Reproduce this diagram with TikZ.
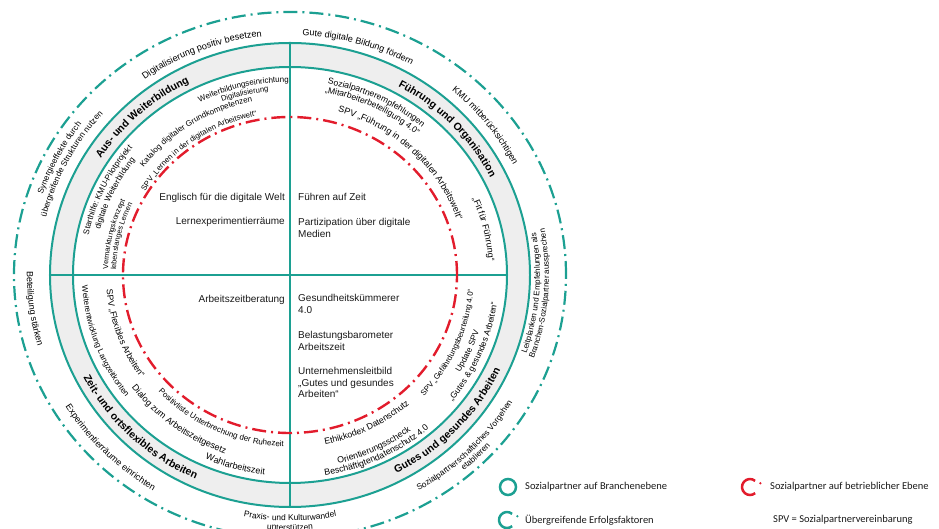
\documentclass[tikz,border=0pt]{standalone}
\usepackage{fontspec}
\setmainfont{Liberation Sans}
\newfontfamily\legendfont{Carlito}
\usetikzlibrary{decorations.text}
\definecolor{tealc}{RGB}{28,160,146}
\definecolor{redc}{RGB}{226,28,44}
\definecolor{bandc}{RGB}{238,238,238}
\newcommand\myfs[1]{\fontsize{#1}{#1}\selectfont}
% #1 half span, #2 centre angle, #3 x radius (pt), #4 1=clockwise -1=counter-clockwise, #5 font, #6 text
\newcommand\arctext[6][75]{%
  \pgfmathsetmacro\myAs{#2+#4*#1}%
  \pgfmathsetmacro\myAe{#2-#4*#1}%
  \pgfmathsetmacro\myRy{0.96*#3}%
  \path[decorate,decoration={text along path,text format delimiters={|}{|},
      text={|#5|#6},text align=center}]
    (\myAs:#3pt and \myRy pt) arc[start angle=\myAs,end angle=\myAe,x radius=#3pt,y radius=\myRy pt];%
}
\tikzset{
  ring/.style={tealc,line width=2pt},
  ctext/.style={font=\fontsize{10}{11.5}\selectfont,inner sep=0pt,text=black!90},
  legtext/.style={font=\legendfont\fontsize{10.5}{12}\selectfont,inner sep=0pt,anchor=west,text=black!90},
  dashdot/.style={dash pattern=on 14pt off 5pt on 2pt off 5pt}
}
\begin{document}
\begin{tikzpicture}[x=1pt,y=1pt]
\useasboundingbox (-290,-254) rectangle (649,275);
% band
\fill[bandc,even odd rule] (0,0) ellipse[x radius=240pt,y radius=232pt] (0,0) ellipse[x radius=217pt,y radius=208pt];
\draw[ring] (0,0) ellipse[x radius=240pt,y radius=232pt];
\draw[ring] (0,0) ellipse[x radius=217pt,y radius=208pt];
\coordinate (top) at (0,232);
\coordinate (bot) at (0,-232);
\coordinate (lft) at (-240,0);
\coordinate (rgt) at (217,0);
\draw[ring] (top) -- (bot);
\draw[ring] (lft) -- (rgt);
\draw[redc,line width=2.4pt,dashdot] (0,0) ellipse[x radius=167pt,y radius=158pt];
\draw[tealc,line width=2.2pt,dashdot] (0,0) ellipse[x radius=276pt,y radius=263pt];

% outer ring texts
\arctext{111.7}{250}{1}{\myfs{9.2}}{Digitalisierung positiv besetzen}
\arctext{73.5}{250}{1}{\myfs{9}}{Gute digitale Bildung fördern}
\arctext{37.5}{251}{1}{\myfs{9}}{KMU mitberücksichtigen}
\arctext{153}{261}{1}{\myfs{8.3}}{Synergieeffekte durch}
\arctext{153}{251}{1}{\myfs{8.3}}{übergreifende Strukturen nutzen}
\arctext{187.5}{263}{-1}{\myfs{9}}{Beteiligung stärken}
\arctext{224}{263}{-1}{\myfs{9}}{Experimentierräume einrichten}
\arctext{270}{256}{-1}{\myfs{8.4}}{Praxis- und Kulturwandel}
\arctext{270}{266}{-1}{\myfs{8.4}}{unterstützen}
\arctext{-44.5}{259}{-1}{\myfs{8.3}}{Sozialpartnerschaftliches Vorgehen}
\arctext{-44.5}{268}{-1}{\myfs{8.3}}{etablieren}
\arctext{-4.3}{250}{-1}{\myfs{8}}{Leitplanken und Empfehlungen als}
\arctext{-4.3}{259}{-1}{\myfs{8}}{Branchen-Sozialpartner aussprechen}

% band titles
\arctext{133}{224.5}{1}{\myfs{10.5}\bfseries}{Aus- und Weiterbildung}
\arctext{43}{224.5}{1}{\myfs{10.5}\bfseries}{Führung und Organisation}
\arctext{225.7}{232.5}{-1}{\myfs{10.5}\bfseries}{Zeit- und ortsflexibles Arbeiten}
\arctext{-43}{232.5}{-1}{\myfs{10.5}\bfseries}{Gutes und gesundes Arbeiten}

% inner texts, top left
\arctext{104}{201}{1}{\myfs{8}}{Weiterbildungseinrichtung}
\arctext{104}{192.5}{1}{\myfs{7.6}}{Digitalisierung}
\arctext{123}{184.5}{1}{\myfs{8}}{Katalog digitaler Grundkompetenzen}
\arctext{126}{169}{1}{\myfs{7.7}}{SPV „Lernen in der digitalen Arbeitswelt“}
\arctext{155}{205.5}{1}{\myfs{8.2}}{Starthilfe: KMU-Pilotprojekt}
\arctext{155}{195.5}{1}{\myfs{8.2}}{digitale Weiterbildung}
\arctext{167}{182}{1}{\myfs{7.4}}{Vermarktungskonzept}
\arctext{167}{174}{1}{\myfs{7.4}}{lebenslanges Lernen}
% top right
\arctext{63.5}{202.5}{1}{\myfs{8.6}}{Sozialpartnerempfehlungen}
\arctext{63.5}{193}{1}{\myfs{8.6}}{„Mitarbeiterbeteiligung 4.0“}
\arctext{45.7}{176.5}{1}{\myfs{9}}{SPV „Führung in der digitalen Arbeitswelt“}
\arctext{13.4}{199}{1}{\myfs{9}}{„Fit für Führung“}
% bottom right
\arctext{-62.8}{180}{-1}{\myfs{8.8}}{Ethikkodex Datenschutz}
\arctext{-64}{202.5}{-1}{\myfs{8.8}}{Orientierungsscheck}
\arctext{-64}{212}{-1}{\myfs{8.8}}{Beschäftigtendatenschutz 4.0}
\arctext{-23.4}{184}{-1}{\myfs{7.8}}{SPV „Gefährdungsbeurteilung 4.0“}
\arctext{-23.3}{198}{-1}{\myfs{8.3}}{Update SPV}
\arctext{-22.8}{209}{-1}{\myfs{8.5}}{„Gutes {\&} gesundes Arbeiten“}
% bottom left
\arctext{199.8}{208}{-1}{\myfs{8}}{Weiterentwicklung Langzeitkonten}
\arctext{199.5}{184}{-1}{\myfs{8.8}}{SPV „Flexibles Arbeiten“}
\arctext{232.7}{197}{-1}{\myfs{9}}{Dialog zum Arbeitszeitgesetz}
\arctext{244.6}{179}{-1}{\myfs{8}}{Positivliste Unterbrechung der Ruhezeit}
\arctext{254}{209.5}{-1}{\myfs{9}}{Wahlarbeitszeit}

% centre texts
\node[ctext,anchor=base east] (c1) at (-5,74.4) {Englisch für die digitale Welt};
\node[ctext,anchor=base east] (c2) at (-5,50.4) {Lernexperimentierräume};
\node[ctext,anchor=base west] (c3) at (8,74.4) {Führen auf Zeit};
\node[ctext,anchor=north west,align=left] (c4) at (8,56.6) {Partizipation über digitale\\Medien};
\node[ctext,anchor=base east] (c5) at (-5,-27.6) {Arbeitszeitberatung};
\node[ctext,anchor=north west,align=left] (c6) at (8,-19.4) {Gesundheitskümmerer\\4.0};
\node[ctext,anchor=north west,align=left] (c7) at (8,-56.4) {Belastungsbarometer\\Arbeitszeit};
\node[ctext,anchor=north west,align=left] (c8) at (8,-92.4) {Unternehmensleitbild\\„Gutes und gesundes\\Arbeiten“};

% legend
\coordinate (s1) at (218,-212);
\coordinate (s2) at (217,-245);
\coordinate (s3) at (460,-212);
\draw[tealc,line width=2.5pt] (s1) circle[radius=8pt];
\node[legtext] (l1) at (235,-212) {Sozialpartner auf Branchenebene};
\draw[tealc,line width=2.5pt] (s2) ++(50:8pt) arc[start angle=50,end angle=310,radius=8pt];
\fill[tealc] (s2) ++(20:11pt) circle[radius=1.3pt];
\node[legtext] (l2) at (235,-245) {Übergreifende Erfolgsfaktoren};
\draw[redc,line width=2.5pt] (s3) ++(50:8pt) arc[start angle=50,end angle=310,radius=8pt];
\fill[redc] (s3) ++(20:11pt) circle[radius=1.3pt];
\node[legtext] (l3) at (480,-212) {Sozialpartner auf betrieblicher Ebene};
\node[legtext] (l4) at (483,-245) {SPV = Sozialpartnervereinbarung};
\end{tikzpicture}
\end{document}
